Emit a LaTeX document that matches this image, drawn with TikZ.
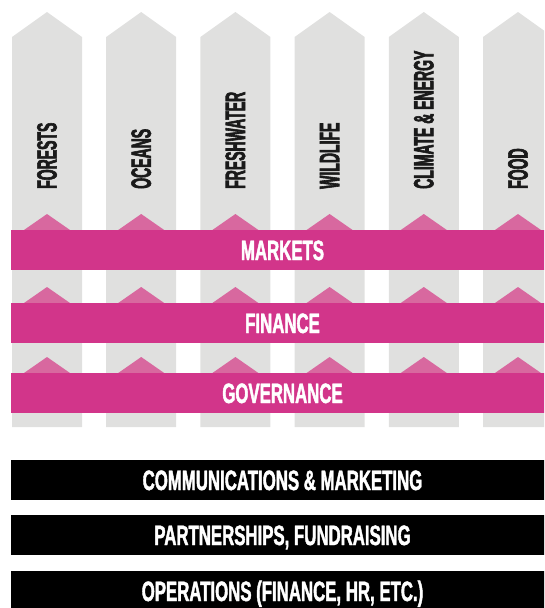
\documentclass[tikz,border=0pt]{standalone}
\usepackage{fontspec}
\newfontfamily\pillarfont{Liberation Sans}[FakeStretch=0.5,BoldFeatures={FakeBold=2}]
\newfontfamily\bandfont{Liberation Sans}[FakeStretch=0.6,BoldFeatures={FakeBold=1.5}]
\definecolor{pillargray}{HTML}{E0E0DF}
\definecolor{bandpink}{HTML}{D2358A}
\definecolor{peakpink}{HTML}{D8689F}
\definecolor{labelblack}{HTML}{1A1A1A}
\newcommand\pillar[1]{
    \fill[pillargray,shift={(#1,0)}] (-35,427) -- (-35,37) -- (0,12) -- (35,37) -- (35,427) -- cycle;
}
\newcommand\peak[2]{
    \fill[peakpink,shift={(#1,#2)}] (-23,0) -- (0,-16) -- (23,0) -- cycle;
}
\tikzset{
    pillarlabel/.style={rotate=90,anchor=west,inner sep=0pt,text=labelblack,
        font=\pillarfont\bfseries\fontsize{28}{30}\selectfont},
    band/.style={rectangle,fill=#1,text=white,inner sep=0pt,
        minimum width=543pt,minimum height=40pt,text height=20pt,text depth=0pt,
        font=\bandfont\bfseries\fontsize{28}{30}\selectfont}
}

\begin{document}
\begin{tikzpicture}[x=1pt,y=-1pt]
                \useasboundingbox (0,0) rectangle (544,608);
                \clip (0,0) rectangle (544,608);
                \foreach \i in {0,...,5}
                    \pillar{47+94.2*\i};
                \foreach \i in {0,...,5}
                    \foreach \t in {230,303,373}
                        \peak{47+94.2*\i}{\t};
                \foreach \i/\name/\txt in {0/forests/FORESTS,1/oceans/OCEANS,2/freshwater/FRESHWATER,
                    3/wildlife/WILDLIFE,4/climate/CLIMATE \& ENERGY,5/food/FOOD}
                        \node[pillarlabel] (\name) at (47+94.2*\i,189) {\txt};
                \node[band=bandpink] (markets) at (282.5,250) {MARKETS};
                \node[band=bandpink] (finance) at (282.5,323) {FINANCE};
                \node[band=bandpink] (governance) at (282.5,393) {GOVERNANCE};
                \node[band=black] (communications) at (282.5,480) {COMMUNICATIONS \& MARKETING};
                \node[band=black] (partnerships) at (282.5,535) {PARTNERSHIPS, FUNDRAISING};
                \node[band=black] (operations) at (282.5,591) {OPERATIONS (FINANCE, HR, ETC.)};
        \end{tikzpicture}
\end{document}
